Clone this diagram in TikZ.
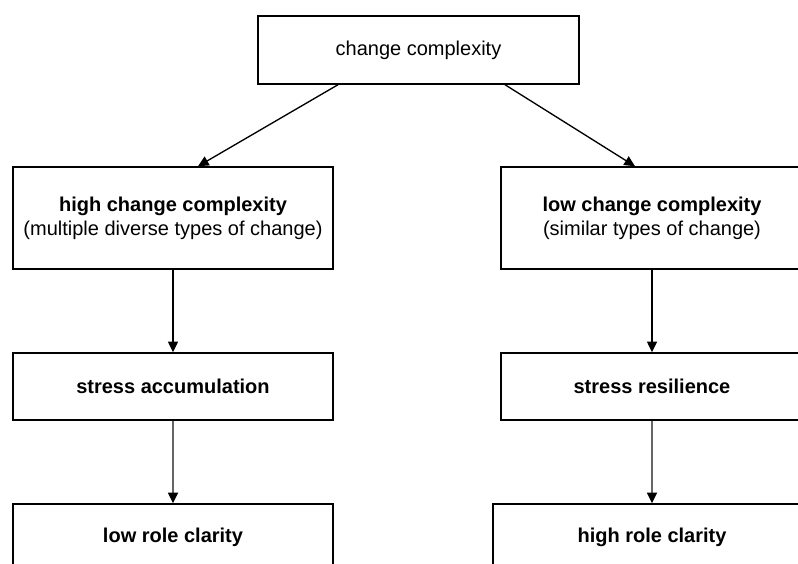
\documentclass[tikz,border=0pt]{standalone}
\usepackage{fontspec}
\setmainfont{Liberation Sans}
\usetikzlibrary{arrows.meta,calc}
\begin{document}
\begin{tikzpicture}[x=0.75pt,y=-0.75pt,
  box/.style={draw=black,line width=1.1pt,fill=white,inner sep=0pt,align=center,
    font=\fontsize{15pt}{18pt}\selectfont},
  arr/.style={line width=1pt,-{Triangle[length=8pt,width=7.5pt,black]}},
  arrg/.style={arr,line width=1.3pt,draw=black!60}]
\useasboundingbox (0,0) rectangle (798,563);
\node[box,minimum width=240.75pt,minimum height=51pt] (top) at (418.5,50) {change complexity};
\node[box,minimum width=240pt,minimum height=76.5pt] (hc) at (173,218)
  {\textbf{high change complexity}\\(multiple diverse types of change)};
\node[box,minimum width=226.5pt,minimum height=76.5pt] (lc) at (652,218)
  {\textbf{low change complexity}\\(similar types of change)};
\node[box,minimum width=240pt,minimum height=50.25pt] (sa) at (173,386.5) {\textbf{stress accumulation}};
\node[box,minimum width=226.5pt,minimum height=50.25pt] (sr) at (652,386.5) {\textbf{stress resilience}};
\node[box,minimum width=240pt,minimum height=50.25pt] (lrc) at (173,537.5) {\textbf{low role clarity}};
\node[box,minimum width=238.5pt,minimum height=50.25pt] (hrc) at (652,537.5) {\textbf{high role clarity}};
\draw[arr] ([xshift=-60.4pt]top.south) -- ([xshift=18.75pt]hc.north);
\draw[arr] ([xshift=64.9pt]top.south) -- ([xshift=-12.75pt]lc.north);
\draw[arr] (hc.south) -- (sa.north);
\draw[arr] (lc.south) -- (sr.north);
\draw[arrg] (sa.south) -- (lrc.north);
\draw[arrg] (sr.south) -- (hrc.north);
\end{tikzpicture}
\end{document}
